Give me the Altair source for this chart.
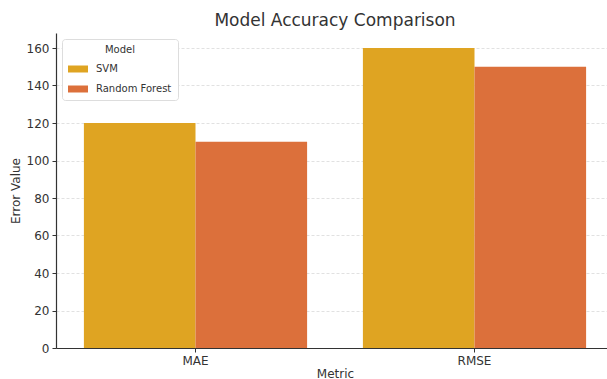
import altair as alt
import pandas as pd

metrics = ["MAE", "RMSE"]
models = ["SVM", "Random Forest"]
svm_values = [120, 160]
rf_values = [110, 150]
colors = ["#DFA422", "#DC703B"]

rows = []
for i, m in enumerate(metrics):
    rows.append({"Metric": m, "Model": "SVM", "Error Value": svm_values[i]})
    rows.append({"Metric": m, "Model": "Random Forest", "Error Value": rf_values[i]})
df = pd.DataFrame(rows)

FONT = "DejaVu Sans"

chart = alt.Chart(df).mark_bar().encode(
    x=alt.X("Metric:N", sort=metrics,
            scale=alt.Scale(paddingInner=0.2, paddingOuter=0.1, range=[0, 558]),
            axis=alt.Axis(labelAngle=0, title="Metric", grid=False, ticks=True,
                          tickSize=4, tickColor="#333", domainColor="#333",
                          labelFontSize=12, titleFontSize=12, labelColor="#333",
                          titleColor="#333", titleFontWeight="normal",
                          labelPadding=3, titlePadding=2)),
    xOffset=alt.XOffset("Model:N", sort=models),
    y=alt.Y("Error Value:Q", scale=alt.Scale(domain=[0, 168], nice=False),
            axis=alt.Axis(values=[0, 20, 40, 60, 80, 100, 120, 140, 160],
                          title="Error Value", grid=True, gridDash=[3, 2],
                          gridColor="#d4d4d4", gridWidth=0.7,
                          tickSize=4, tickColor="#333", domainColor="#333",
                          labelFontSize=12, titleFontSize=12, labelColor="#333",
                          titleColor="#333", titleFontWeight="normal",
                          labelPadding=3, titlePadding=4)),
    color=alt.Color("Model:N", sort=models,
                    scale=alt.Scale(domain=models, range=colors),
                    legend=alt.Legend(title="Model", orient="none", legendX=6, legendY=6,
                                      fillColor="white", strokeColor="#dddddd",
                                      cornerRadius=3, padding=6,
                                      titleFontSize=10, titleFontWeight="normal",
                                      titleColor="#333", titleAnchor="middle",
                                      titlePadding=4,
                                      labelFontSize=10, labelColor="#333",
                                      labelOffset=8,
                                      symbolType="M-1,-0.35H1V0.35H-1Z", symbolSize=400,
                                      symbolStrokeWidth=0, symbolOpacity=1,
                                      rowPadding=5)),
).properties(
    width=550,
    height=315,
    title=alt.Title("Model Accuracy Comparison", fontSize=17, font=FONT,
                    fontWeight="normal", color="#333", anchor="middle",
                    offset=3, dx=4),
    autosize=alt.AutoSizeParams(type="none"),
    padding={"left": 56, "top": 33, "right": 1, "bottom": 31},
).configure(font=FONT).configure_view(stroke=None).configure_axis(
    domainWidth=1.2, labelFont=FONT, titleFont=FONT
).configure_legend(labelFont=FONT, titleFont=FONT)

chart.save("out.html", embed_options={"renderer": "svg", "actions": False})
